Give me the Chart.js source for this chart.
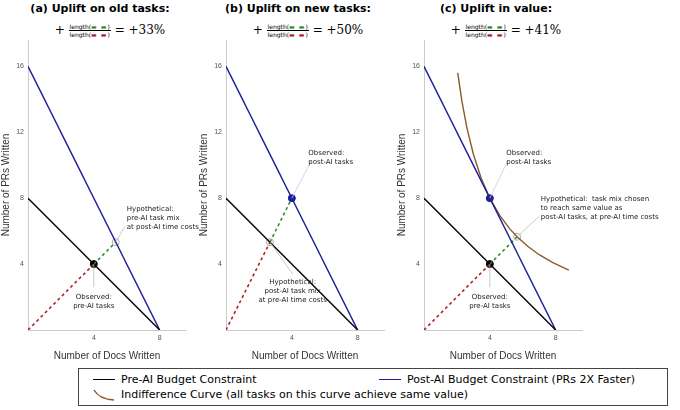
<!DOCTYPE html>
<html>
<head>
<meta charset="utf-8">
<script src="https://cdn.jsdelivr.net/npm/chart.js@4"></script>
<style>
  body { margin: 0; background: #fff; font-family: "DejaVu Sans", sans-serif; }
  #wrap { position: relative; width: 680px; height: 410px; }
  .panel { position: absolute; top: 30px; width: 280px; height: 332px; }
  .title { position: absolute; top: 2px; width: 200px; text-align: center; font-weight: bold; font-size: 11px; }
  .formula { position: absolute; top: 23px; width: 200px; text-align: center; font-family: "DejaVu Serif", serif; font-size: 12px; }
  .frac { display: inline-block; vertical-align: middle; text-align: center; font-family: "DejaVu Sans", sans-serif; font-size: 6px; line-height: 7px; }
  .frac span.top { display: block; border-bottom: 0.8px solid #000; padding: 0 1px; }
  .g { color: #2e8b2e; font-weight: bold; letter-spacing: 1px; }
  .r { color: #b0202a; font-weight: bold; letter-spacing: 1px; }
  #legend { position: absolute; left: 78px; top: 368px; width: 588px; height: 36px; border: 1px solid #444; font-size: 11px; }
  .li { position: absolute; display: flex; align-items: center; }
  .sw { width: 22px; height: 0; border-top: 1.5px solid; margin-right: 6px; }
</style>
</head>
<body>
<div id="wrap">
  <div class="title" style="left:0">(a) Uplift on old tasks:</div>
  <div class="title" style="left:198px">(b) Uplift on new tasks:</div>
  <div class="title" style="left:396px">(c) Uplift in value:</div>
  <div class="formula" style="left:10px">+ <span class="frac"><span class="top">length(<span class="g">▬ ▬</span>)</span><span>length(<span class="r">▬ ▬</span>)</span></span> = +33%</div>
  <div class="formula" style="left:208px">+ <span class="frac"><span class="top">length(<span class="g">▬ ▬</span>)</span><span>length(<span class="r">▬ ▬</span>)</span></span> = +50%</div>
  <div class="formula" style="left:406px">+ <span class="frac"><span class="top">length(<span class="g">▬ ▬</span>)</span><span>length(<span class="r">▬ ▬</span>)</span></span> = +41%</div>
  <div class="panel" style="left:0"><canvas id="ca"></canvas></div>
  <div class="panel" style="left:198px"><canvas id="cb"></canvas></div>
  <div class="panel" style="left:396px"><canvas id="cc"></canvas></div>
  <div id="legend">
    <div class="li" style="left:14px;top:4px"><div class="sw" style="border-color:#000"></div>Pre-AI Budget Constraint</div>
    <div class="li" style="left:300px;top:4px"><div class="sw" style="border-color:#1c1c9a"></div>Post-AI Budget Constraint (PRs 2X Faster)</div>
    <div class="li" style="left:14px;top:19px"><svg width="22" height="12" style="margin-right:6px"><path d="M1 1 Q6 10 21 11" stroke="#8b5a2b" stroke-width="1.5" fill="none"/></svg>Indifference Curve (all tasks on this curve achieve same value)</div>
  </div>
</div>
<script>
const preBudget = [{x: 0, y: 8}, {x: 8, y: 0}];
const postBudget = [{x: 0, y: 16}, {x: 8, y: 0}];
const indiffX = [2.05, 2.3, 2.6, 3, 3.5, 4, 4.6, 5.2, 5.66, 6.3, 7, 7.8, 8.8];
const indiffY = [15.6, 13.9, 12.3, 10.67, 9.14, 8, 6.96, 6.15, 5.66, 5.08, 4.57, 4.1, 3.64];
const obsPre = {x: 4, y: 4};
const obsPost = {x: 4, y: 8};
const hypoA = {x: 5.33, y: 5.33};
const hypoB = {x: 2.67, y: 5.33};
const hypoC = {x: 5.66, y: 5.66};
const xTicks = [4, 8];
const yTicks = [4, 8, 12, 16];

const navy = '#1c1c9a', green = '#2e8b2e', red = '#b0202a', brown = '#8b5a2b';

function dash(pts, color) {
  return {data: pts, showLine: true, borderColor: color, borderWidth: 1.6, borderDash: [3, 3], pointRadius: 0};
}
function solid(pts, color) {
  return {data: pts, showLine: true, borderColor: color, borderWidth: 1.4, pointRadius: 0};
}
function dot(p, fill, stroke) {
  return {data: [p], pointRadius: 3.5, pointBackgroundColor: fill, pointBorderColor: stroke, pointBorderWidth: 1};
}

// callout texts with a thin leader line back to the point
const notesPlugin = {
  id: 'notes',
  afterDatasetsDraw(chart) {
    const notes = chart.options.plugins.notes.items || [];
    const ctx = chart.ctx, xs = chart.scales.x, ys = chart.scales.y;
    ctx.save();
    ctx.font = '7px "DejaVu Sans", sans-serif';
    ctx.fillStyle = '#222';
    notes.forEach(n => {
      const px = xs.getPixelForValue(n.p.x), py = ys.getPixelForValue(n.p.y);
      const tx = xs.getPixelForValue(n.tx), ty = ys.getPixelForValue(n.ty);
      ctx.strokeStyle = n.lc || '#bbb';
      ctx.lineWidth = 0.8;
      ctx.beginPath(); ctx.moveTo(px, py); ctx.lineTo(n.lx !== undefined ? xs.getPixelForValue(n.lx) : tx, n.ly !== undefined ? ys.getPixelForValue(n.ly) : ty); ctx.stroke();
      ctx.textAlign = n.align || 'center';
      n.lines.forEach((l, i) => ctx.fillText(l, tx, ty + i * 9));
    });
    ctx.restore();
  }
};

function make(id, datasets, notes) {
  new Chart(document.getElementById(id), {
    type: 'scatter',
    data: {datasets},
    plugins: [notesPlugin],
    options: {
      responsive: true, maintainAspectRatio: false, animation: false,
      layout: {padding: {top: 10, right: 94}},
      plugins: {legend: {display: false}, tooltip: {enabled: false}, notes: {items: notes}},
      scales: {
        x: {
          min: 0, max: 9.6,
          afterBuildTicks: a => { a.ticks = xTicks.map(v => ({value: v})); },
          afterFit: a => { a.height = 32; },
          grid: {display: false, drawTicks: false},
          border: {color: '#ccc'},
          ticks: {color: '#555', font: {size: 7}, padding: 4},
          title: {display: true, text: 'Number of Docs Written', color: '#333', font: {size: 10}, padding: 0}
        },
        y: {
          min: 0, max: 17.6,
          afterBuildTicks: a => { a.ticks = yTicks.map(v => ({value: v})); },
          afterFit: a => { a.width = 28; },
          grid: {display: false, drawTicks: false},
          border: {color: '#ccc'},
          ticks: {color: '#555', font: {size: 7}, padding: 4},
          title: {display: true, text: 'Number of PRs Written', color: '#333', font: {size: 10}, padding: 0}
        }
      }
    }
  });
}

make('ca', [
  solid(preBudget, '#000'), solid(postBudget, navy),
  dash([{x: 0, y: 0}, obsPre], red), dash([obsPre, hypoA], green),
  dot(obsPre, '#000', '#000'), dot(hypoA, '#fff', '#aaa')
], [
  {p: obsPre, tx: 4, ty: 1.9, ly: 2.6, lines: ['Observed:', 'pre-AI tasks']},
  {p: hypoA, tx: 6.0, ty: 7.2, lx: 5.9, ly: 6.3, align: 'left', lines: ['Hypothetical:', 'pre-AI task mix', 'at post-AI time costs']}
]);

make('cb', [
  solid(preBudget, '#000'), solid(postBudget, navy),
  dash([{x: 0, y: 0}, hypoB], red), dash([hypoB, obsPost], green),
  dot(obsPost, navy, navy), dot(hypoB, '#fff', '#aaa')
], [
  {p: obsPost, tx: 5, ty: 10.6, lx: 5.2, ly: 10.3, align: 'left', lines: ['Observed:', 'post-AI tasks'], lc: '#c8c8e8'},
  {p: hypoB, tx: 4.05, ty: 2.8, ly: 3.4, lines: ['Hypothetical:', 'post-AI task mix', 'at pre-AI time costs']}
]);

make('cc', [
  solid(preBudget, '#000'), solid(postBudget, navy),
  solid(indiffX.map((x, i) => ({x, y: indiffY[i]})), brown),
  dash([{x: 0, y: 0}, obsPre], red), dash([obsPre, hypoC], green),
  dot(obsPre, '#000', '#000'), dot(obsPost, navy, navy), dot(hypoC, '#fff', '#aaa')
], [
  {p: obsPost, tx: 5, ty: 10.6, lx: 5.1, ly: 10.3, align: 'left', lines: ['Observed:', 'post-AI tasks'], lc: '#c8c8e8'},
  {p: obsPre, tx: 4, ty: 1.9, ly: 2.6, lines: ['Observed:', 'pre-AI tasks']},
  {p: hypoC, tx: 7.1, ty: 7.8, lx: 7, ly: 6.9, align: 'left', lines: ['Hypothetical:  task mix chosen', 'to reach same value as', 'post-AI tasks, at pre-AI time costs']}
]);
</script>
</body>
</html>
